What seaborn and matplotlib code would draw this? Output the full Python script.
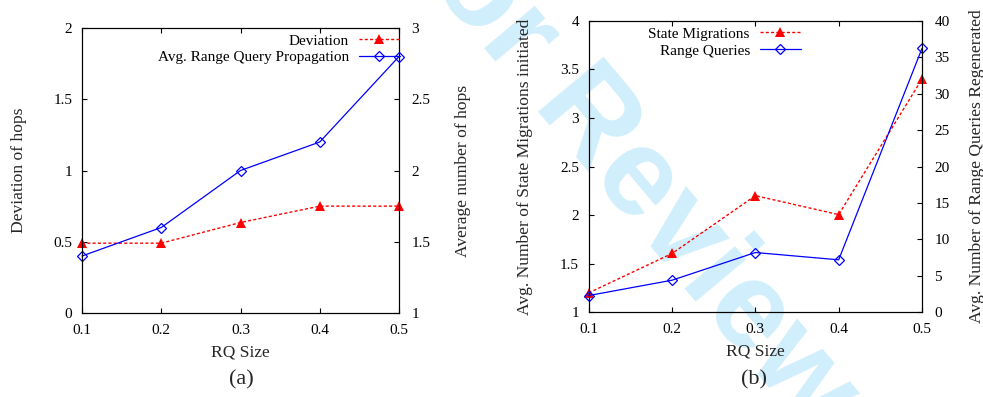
import matplotlib
matplotlib.use("Agg")
import matplotlib.pyplot as plt
from matplotlib.ticker import FixedLocator, FuncFormatter
import seaborn as sns

# RQ size on the x axis of both panels
rq_size = [0.1, 0.2, 0.3, 0.4, 0.5]

# panel (a)
hop_deviation = [0.49, 0.49, 0.635, 0.75, 0.75]
avg_rq_propagation = [1.40, 1.60, 2.00, 2.20, 2.80]

# panel (b)
state_migrations = [1.20, 1.605, 2.20, 2.005, 3.40]
range_queries_regen = [2.3, 4.4, 8.2, 7.2, 36.2]

x_ticks = [0.1, 0.2, 0.3, 0.4, 0.5]
dev_ticks = [0, 0.5, 1, 1.5, 2]
hops_ticks = [1, 1.5, 2, 2.5, 3]
migr_ticks = [1, 1.5, 2, 2.5, 3, 3.5, 4]
regen_ticks = [0, 5, 10, 15, 20, 25, 30, 35, 40]

sns.set_style("ticks")
plt.rcParams["font.family"] = ["Liberation Serif", "DejaVu Serif"]
plt.rcParams["axes.linewidth"] = 0.8

TICK_FS = 11
LABEL_FS = 12.6
CAPTION_FS = 16
W, H = 983, 397

fig = plt.figure(figsize=(W / 100, H / 100), dpi=100)
fig.patch.set_facecolor("white")

# diagonal watermark behind everything
fig.text(594 / W, 1 - 180 / H, "For Review", rotation=-50, rotation_mode="anchor",
         ha="center", va="baseline", fontsize=90, fontweight="bold",
         family="Liberation Sans", color="#d0eefb", zorder=-5)

fmt = FuncFormatter(lambda v, p: "%g" % v)


def px_axes(x0, y0, x1, y1):
    return fig.add_axes([x0 / W, 1 - y1 / H, (x1 - x0) / W, (y1 - y0) / H])


def style_pair(ax, tw, yl, yr, ylo, yhi):
    ax.set_xlim(0.1, 0.5)
    ax.set_ylim(*ylo)
    tw.set_ylim(*yhi)
    ax.xaxis.set_major_locator(FixedLocator(x_ticks))
    ax.xaxis.set_major_formatter(fmt)
    ax.yaxis.set_major_locator(FixedLocator(yl))
    ax.yaxis.set_major_formatter(fmt)
    tw.yaxis.set_major_locator(FixedLocator(yr))
    tw.yaxis.set_major_formatter(fmt)
    ax.tick_params(axis="x", direction="in", top=True, bottom=True,
                   length=3.5, width=0.8, pad=8, labelsize=TICK_FS)
    ax.tick_params(axis="y", direction="in", left=True, right=False,
                   length=3.5, width=0.8, pad=7, labelsize=TICK_FS)
    tw.tick_params(axis="y", direction="in", right=True, left=False,
                   length=3.5, width=0.8, pad=9, labelsize=TICK_FS)
    for a in (ax, tw):
        a.set_facecolor("none")
        for s in a.spines.values():
            s.set_visible(True)
            s.set_color("black")
            s.set_linewidth(0.8)
    ax.tick_params(colors="black")
    tw.tick_params(colors="black")


def draw_series(ax, y, kind, label):
    if kind == "red":
        sns.lineplot(x=rq_size, y=y, ax=ax, color="#ff0000", marker="^",
                     markersize=7, markeredgewidth=0, linewidth=1.0,
                     linestyle=(0, (2.2, 1.6)), legend=False, clip_on=False)
    else:
        sns.lineplot(x=rq_size, y=y, ax=ax, color="#0000ff", marker="D",
                     markersize=5.5, markerfacecolor="none",
                     markeredgecolor="#0000ff", markeredgewidth=0.9,
                     linewidth=0.9, legend=False, clip_on=False)
    line = ax.get_lines()[-1]
    line.set_label(label)
    return line


def add_legend(tw, handles, anchor):
    leg = tw.legend(handles=handles, labels=[h.get_label() for h in handles],
                    loc="upper right", bbox_to_anchor=anchor,
                    bbox_transform=tw.transAxes, frameon=False,
                    markerfirst=False, fontsize=TICK_FS, handlelength=2.7,
                    handletextpad=0.65, labelspacing=0.2, borderpad=0,
                    borderaxespad=0, numpoints=1)
    for t in leg.get_texts():
        t.set_color("black")
    return leg


# ---- panel (a)
ax1 = px_axes(82, 28, 399, 313)
tw1 = ax1.twinx()
h1 = draw_series(ax1, hop_deviation, "red", "Deviation")
h2 = draw_series(tw1, avg_rq_propagation, "blue", "Avg. Range Query Propagation")
style_pair(ax1, tw1, dev_ticks, hops_ticks, (0, 2), (1, 3))
ax1.set_xlabel("RQ Size", fontsize=LABEL_FS)
ax1.set_ylabel("Deviation of hops", fontsize=LABEL_FS)
tw1.set_ylabel("Average number of hops", fontsize=LABEL_FS)
ax1.xaxis.set_label_coords(0.5, -0.137)
ax1.yaxis.set_label_coords(-0.199, 0.5)
tw1.yaxis.set_label_coords(1.202, 0.5)
add_legend(tw1, [h1, h2], (1.003, 0.979))

# ---- panel (b)
ax2 = px_axes(588.7, 20.7, 922, 312.3)
tw2 = ax2.twinx()
h3 = draw_series(ax2, state_migrations, "red", "State Migrations")
h4 = draw_series(tw2, range_queries_regen, "blue", "Range Queries")
style_pair(ax2, tw2, migr_ticks, regen_ticks, (1, 4), (0, 40))
ax2.set_xlabel("RQ Size", fontsize=LABEL_FS)
ax2.set_ylabel("Avg. Number of State Migrations initiated", fontsize=LABEL_FS)
tw2.set_ylabel("Avg. Number of Range Queries Regenerated", fontsize=LABEL_FS)
ax2.xaxis.set_label_coords(0.5, -0.136)
ax2.yaxis.set_label_coords(-0.191, 0.5)
tw2.yaxis.set_label_coords(1.165, 0.5)
add_legend(tw2, [h3, h4], (0.637, 0.978))

for a in (ax1, tw1, ax2, tw2):
    a.xaxis.label.set_va("center")
    a.yaxis.label.set_va("center")
    a.yaxis.label.set_rotation(90)

fig.text(241 / W, 1 - 380 / H, "(a)", ha="center", va="center", fontsize=CAPTION_FS)
fig.text(754 / W, 1 - 380 / H, "(b)", ha="center", va="center", fontsize=CAPTION_FS)

fig.savefig("out.png", dpi=100, facecolor="white")
